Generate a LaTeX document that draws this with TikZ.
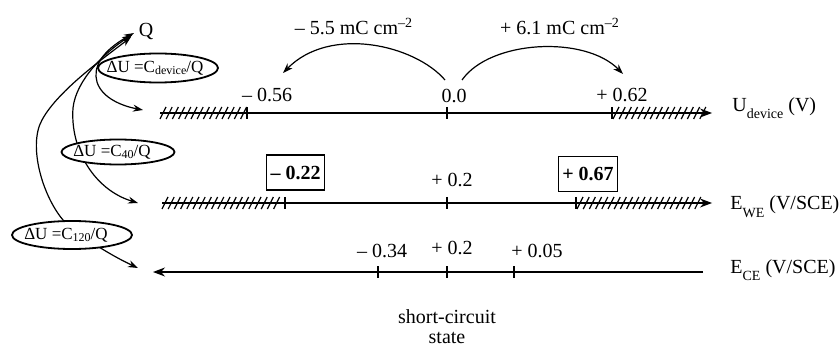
\documentclass[tikz,border=0pt]{standalone}
\usepackage{fontspec}
\setmainfont{Liberation Serif}
\usetikzlibrary{arrows.meta,shapes.geometric}
\begin{document}
\begin{tikzpicture}[x=0.5pt,y=-0.5pt,
  txt/.style={font=\fontsize{10}{12}\selectfont, inner sep=0pt},
  etxt/.style={font=\fontsize{8.5}{10}\selectfont, inner sep=0pt},
  ell/.style={draw, line width=0.9pt, fill=white},
  bbox/.style={draw, line width=0.7pt, font=\fontsize{10}{12}\selectfont\bfseries, inner xsep=2pt, inner ysep=0pt, minimum height=17.5pt},
  axis/.style={line width=0.6pt},
  atip/.style={-{Stealth[length=6pt,width=4.5pt]}},
  ctip/.style={arrows={Stealth[length=5pt,width=3.5pt]-Stealth[length=5pt,width=3.5pt]}},
  otip/.style={-{Stealth[length=5pt,width=3.5pt]}},
  hatchline/.style={line width=0.6pt},
  tick/.style={line width=0.7pt},
  curv/.style={line width=0.6pt}
]
\useasboundingbox (0,0) rectangle (839,347);

% ---------- coordinates ----------
\coordinate (l1s) at (160,113);
\coordinate (l1e) at (712,113);
\coordinate (l2s) at (162,203);
\coordinate (l2e) at (712,203);
\coordinate (l3s) at (703,272);
\coordinate (l3e) at (153,272);

\coordinate (u1) at (143,110);
\coordinate (w1) at (138,203);
\coordinate (c1) at (138,268);

\coordinate (qa) at (134,33);
\coordinate (qb) at (132,35);
\coordinate (qc) at (131,37);

\coordinate (a0) at (445,80);
\coordinate (a1) at (283,73);
\coordinate (b0) at (462,80);
\coordinate (b1) at (623,74);

% ---------- hatching ----------
\foreach \x in {160,166.2,...,241} \draw[hatchline] (\x,119) -- ++(6,-12);
\foreach \x in {613,619.2,...,700} \draw[hatchline] (\x,119) -- ++(6,-12);
\foreach \x in {162,168.2,...,279} \draw[hatchline] (\x,209) -- ++(6,-12);
\foreach \x in {577,583.2,...,700} \draw[hatchline] (\x,209) -- ++(6,-12);

% ---------- axes ----------
\draw[axis,atip] (l1s) -- (l1e);
\draw[axis,atip] (l2s) -- (l2e);
\draw[axis,atip] (l3s) -- (l3e);

% ticks
\foreach \x in {247,447,612} \draw[tick] (\x,107) -- (\x,119);
\foreach \x in {285,447,576} \draw[tick] (\x,197) -- (\x,209);
\foreach \x in {378,447,514} \draw[tick] (\x,266) -- (\x,278);

% ---------- Q and loops ----------
\node[txt] (Q) at (146,32) {Q};

\draw[curv,ctip] (qa) .. controls (100,52) and (93,68) .. (97,82)
   .. controls (102,98) and (122,106) .. (u1);
\draw[curv,ctip] (qb) .. controls (105,52) and (76,80) .. (73,108)
   .. controls (70,150) and (95,190) .. (w1);
\draw[curv,ctip] (qc) .. controls (108,55) and (58,90) .. (42,120)
   .. controls (28,145) and (42,195) .. (63,220)
   .. controls (78,235) and (110,255) .. (c1);

% ellipses
\draw[ell] (158,68) ellipse [x radius=60, y radius=14.5];
\draw[ell] (118,152) ellipse [x radius=56.5, y radius=12.5];
\draw[ell] (72,235) ellipse [x radius=60, y radius=14];

\node[etxt] (e1) at (155,68) {ΔU =C{\fontsize{6}{7}\selectfont\raisebox{-1pt}{device}}/Q};
\node[etxt] (e2) at (112,152) {ΔU =C{\fontsize{6}{7}\selectfont\raisebox{-1pt}{40}}/Q};
\node[etxt] (e3) at (66,235) {ΔU =C{\fontsize{6}{7}\selectfont\raisebox{-1pt}{120}}/Q};

% ---------- top arcs ----------
\draw[curv,otip] (a0) .. controls (415,45) and (330,25) .. (a1);
\draw[curv,otip] (b0) .. controls (490,40) and (585,35) .. (b1);
\node[txt,anchor=base] (chg1) at (354,35) {– 5.5 mC cm\textsuperscript{–2}};
\node[txt,anchor=base] (chg2) at (560,35) {+ 6.1 mC cm\textsuperscript{–2}};

% ---------- line 1 labels ----------
\node[txt,anchor=base] (v1) at (267,102) {– 0.56};
\node[txt,anchor=base] (v2) at (454,103) {0.0};
\node[txt,anchor=base] (v3) at (622,102) {+ 0.62};
\node[txt,anchor=base west] (n1) at (732,112) {U{\fontsize{7}{8}\selectfont\raisebox{-3.5pt}{device}} (V)};

% ---------- line 2 labels ----------
\node[bbox] (b22) at (295.5,172.5) {– 0.22};
\node[bbox] (b67) at (588,174) {+ 0.67};
\node[txt,anchor=base] (v4) at (452,187) {+ 0.2};
\node[txt,anchor=base west] (n2) at (730,210) {E{\fontsize{7}{8}\selectfont\raisebox{-3.5pt}{WE}} (V/SCE)};

% ---------- line 3 labels ----------
\node[txt,anchor=base] (v5) at (382,257) {– 0.34};
\node[txt,anchor=base] (v6) at (452,254) {+ 0.2};
\node[txt,anchor=base] (v7) at (537,257) {+ 0.05};
\node[txt,anchor=base west] (n3) at (730,273) {E{\fontsize{7}{8}\selectfont\raisebox{-3.5pt}{CE}} (V/SCE)};

% ---------- bottom ----------
\node[txt,anchor=base] (sc1) at (447,323) {short-circuit};
\node[txt,anchor=base] (sc2) at (447,343) {state};
\end{tikzpicture}
\end{document}
